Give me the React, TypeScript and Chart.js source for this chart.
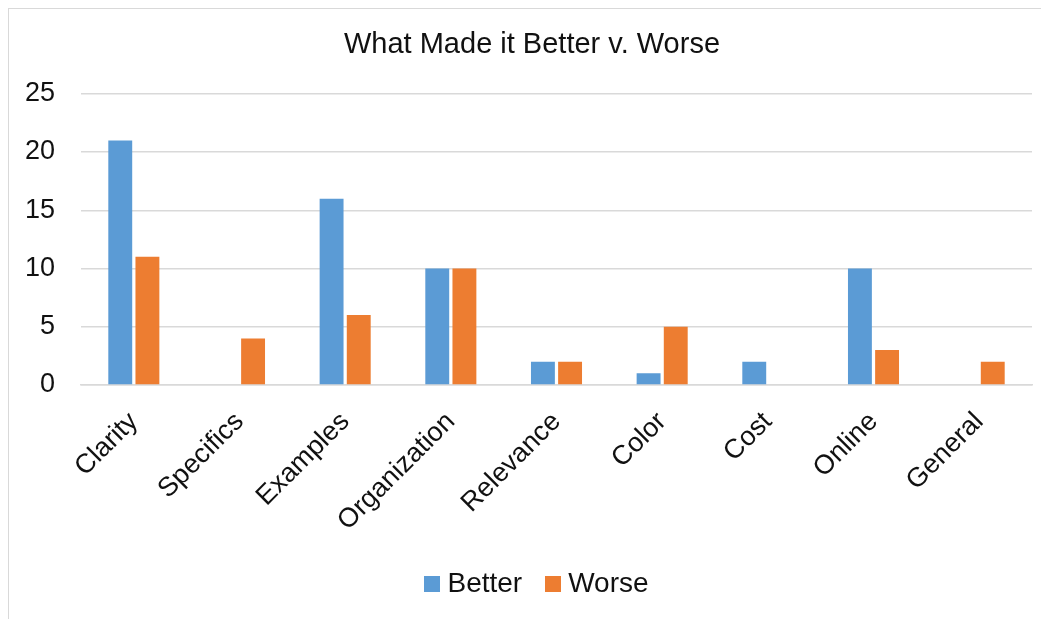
import React, { useEffect, useRef } from 'react';
import { Chart, registerables } from 'chart.js';

Chart.register(...registerables);

const chartTitle = 'What Made it Better v. Worse';
const categories = ['Clarity', 'Specifics', 'Examples', 'Organization', 'Relevance', 'Color', 'Cost', 'Online', 'General'];
const seriesNames = ['Better', 'Worse'];
const seriesColors = ['#5B9BD5', '#ED7D31'];
const betterValues = [21, 0, 16, 10, 2, 1, 2, 10, 0];
const worseValues = [11, 4, 6, 10, 2, 5, 0, 3, 2];
const yMin = 0;
const yMax = 25;
const yStep = 5;

const FONT = "'Liberation Sans', Arial, sans-serif";
const TEXT = '#111111';

function makeSwatch(color: string) {
  const c = document.createElement('canvas');
  c.width = 16;
  c.height = 16;
  const ctx = c.getContext('2d');
  if (ctx) {
    ctx.fillStyle = color;
    ctx.fillRect(0, 0, 16, 16);
  }
  return c;
}

export default function App() {
  const canvasRef = useRef<HTMLCanvasElement | null>(null);

  useEffect(() => {
    if (!canvasRef.current) return;
    const swatches = seriesColors.map(makeSwatch);
    const legendShift = {
      id: 'legendShift',
      afterLayout(chart: any) {
        const l = chart.legend;
        if (l) {
          l.left += 8;
          l.right += 8;
        }
      },
    };
    const chart = new Chart(canvasRef.current, {
      type: 'bar',
      data: {
        labels: categories,
        datasets: [
          {
            label: seriesNames[0],
            data: betterValues,
            backgroundColor: seriesColors[0],
            borderWidth: 0,
            categoryPercentage: 0.514,
            barPercentage: 0.88,
          },
          {
            label: seriesNames[1],
            data: worseValues,
            backgroundColor: seriesColors[1],
            borderWidth: 0,
            categoryPercentage: 0.514,
            barPercentage: 0.88,
          },
        ],
      },
      plugins: [legendShift],
      options: {
        animation: false,
        responsive: true,
        maintainAspectRatio: false,
        devicePixelRatio: 1,
        layout: { padding: { left: 0, right: 0, top: 0, bottom: 11 } },
        plugins: {
          title: {
            display: true,
            text: chartTitle,
            color: TEXT,
            font: { family: FONT, size: 29, weight: 'normal' },
            padding: { top: 19, bottom: 31 },
          },
          legend: {
            display: true,
            position: 'bottom',
            labels: {
              color: TEXT,
              font: { family: FONT, size: 28 },
              usePointStyle: true,
              pointStyleWidth: 2,
              boxHeight: 16,
              padding: 30,
              generateLabels: () =>
                seriesNames.map((name, i) => ({
                  text: name,
                  fillStyle: seriesColors[i],
                  strokeStyle: seriesColors[i],
                  lineWidth: 0,
                  hidden: false,
                  datasetIndex: i,
                  pointStyle: swatches[i],
                  fontColor: TEXT,
                })),
            },
          },
          tooltip: { enabled: false },
        },
        scales: {
          x: {
            grid: { display: false, drawTicks: false },
            border: { display: true, color: '#d9d9d9', width: 1.5 },
            ticks: {
              color: TEXT,
              font: { family: FONT, size: 27 },
              minRotation: 45,
              maxRotation: 45,
              padding: 21,
              autoSkip: false,
            },
            afterFit: (scale: any) => {
              scale.height = 155;
            },
          },
          y: {
            min: yMin,
            max: yMax,
            grid: { color: '#d9d9d9', lineWidth: 1.5, drawTicks: false },
            border: { display: false },
            ticks: {
              stepSize: yStep,
              color: TEXT,
              font: { family: FONT, size: 27 },
              padding: 26,
            },
            afterFit: (scale: any) => {
              scale.width = 72;
            },
          },
          yRightSpace: {
            type: 'linear',
            position: 'right',
            display: true,
            grid: { display: false, drawTicks: false },
            border: { display: false },
            ticks: { display: false },
            afterFit: (scale: any) => {
              scale.width = 23;
            },
          },
        },
      },
    });
    return () => chart.destroy();
  }, []);

  return (
    <div
      style={{
        width: 1041,
        height: 611,
        boxSizing: 'border-box',
        borderLeft: '1px solid #d9d9d9',
        borderTop: '1px solid #d9d9d9',
        overflow: 'hidden',
        background: '#fff',
      }}
    >
      <div style={{ position: 'relative', width: 1046, height: 610 }}>
        <canvas ref={canvasRef} />
      </div>
    </div>
  );
}
